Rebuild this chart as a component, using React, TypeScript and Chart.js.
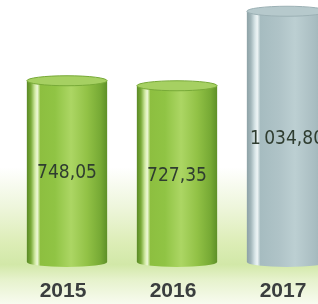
import React, { useEffect, useRef } from "react";
import { Chart, registerables } from "chart.js";

Chart.register(...registerables);

const years = ["2015", "2016", "2017"];
const values = [748.05, 727.35, 1034.8];
const barKinds = ["green", "green", "gray"];

function fmt(v: number): string {
  const [i, d] = v.toFixed(2).split(".");
  const withSep = i.replace(/\B(?=(\d{3})+(?!\d))/g, "\u2009");
  return withSep + "," + d;
}

const palettes: Record<string, { body: [number, string][]; top: string; rim: string }> = {
  green: {
    body: [
      [0, "#5a8a26"],
      [0.05, "#78a936"],
      [0.1, "#cfe9a0"],
      [0.13, "#eef8d8"],
      [0.17, "#8dbf40"],
      [0.35, "#90c444"],
      [0.55, "#acd664"],
      [0.75, "#92c246"],
      [0.92, "#76a934"],
      [1, "#5e9028"],
    ],
    top: "#a6d062",
    rim: "#78aa38",
  },
  gray: {
    body: [
      [0, "#8da2a6"],
      [0.05, "#a2b6ba"],
      [0.1, "#d6e4e6"],
      [0.13, "#eef5f6"],
      [0.17, "#a6bcc0"],
      [0.4, "#afc3c7"],
      [0.6, "#bccfd2"],
      [0.85, "#a9bdc1"],
      [1, "#98acb0"],
    ],
    top: "#b6c9cc",
    rim: "#9cb1b5",
  },
};

const bgPlugin = {
  id: "bg",
  beforeDraw(chart: any) {
    const { ctx, width, height } = chart;
    ctx.save();
    const g = ctx.createLinearGradient(0, 0, 0, height);
    g.addColorStop(0, "#ffffff");
    g.addColorStop(0.55, "#ffffff");
    g.addColorStop(0.68, "#eef6dc");
    g.addColorStop(0.8, "#dcedb6");
    g.addColorStop(0.87, "#d2e8a8");
    g.addColorStop(0.92, "#e6f2cc");
    g.addColorStop(1, "#f8fbf0");
    ctx.fillStyle = g;
    ctx.fillRect(0, 0, width, height);
    ctx.restore();
  },
};

const cylPlugin = {
  id: "cyl",
  afterDatasetsDraw(chart: any) {
    const { ctx } = chart;
    const meta = chart.getDatasetMeta(0);
    meta.data.forEach((el: any, i: number) => {
      const pal = palettes[barKinds[i]];
      const w = el.width;
      const left = el.x - w / 2;
      const top = el.y;
      const base = el.base;
      const ry = 5;
      ctx.save();
      const g = ctx.createLinearGradient(left, 0, left + w, 0);
      pal.body.forEach(([o, c]) => g.addColorStop(o, c));
      ctx.fillStyle = g;
      ctx.beginPath();
      ctx.moveTo(left, top);
      ctx.lineTo(left, base);
      ctx.ellipse(el.x, base, w / 2, ry, 0, Math.PI, 0, true);
      ctx.lineTo(left + w, top);
      ctx.closePath();
      ctx.fill();
      ctx.beginPath();
      ctx.ellipse(el.x, top, w / 2, ry, 0, 0, Math.PI * 2);
      ctx.fillStyle = pal.top;
      ctx.fill();
      ctx.lineWidth = 1;
      ctx.strokeStyle = pal.rim;
      ctx.stroke();
      ctx.fillStyle = "#2f3d30";
      ctx.font = "19px 'DejaVu Sans Condensed', 'DejaVu Sans', sans-serif";
      ctx.textAlign = "center";
      ctx.textBaseline = "middle";
      ctx.fillText(fmt(values[i]), el.x, (top + base) / 2 + 2);
      ctx.restore();
    });
  },
};

export default function App() {
  const ref = useRef<HTMLCanvasElement | null>(null);
  useEffect(() => {
    if (!ref.current) return;
    const chart = new Chart(ref.current, {
      type: "bar",
      data: {
        labels: years,
        datasets: [
          {
            data: values,
            backgroundColor: "rgba(0,0,0,0)",
            borderWidth: 0,
            barPercentage: 0.73,
            categoryPercentage: 1,
          },
        ],
      },
      options: {
        animation: false,
        responsive: false,
        maintainAspectRatio: false,
        devicePixelRatio: 1,
        layout: { padding: { left: 12, top: 10, right: 0, bottom: 0 } },
        plugins: { legend: { display: false }, tooltip: { enabled: false } },
        scales: {
          x: {
            grid: { display: false, drawTicks: false },
            border: { display: false },
            afterFit: (scale: any) => {
              scale.height = 42;
            },
            ticks: {
              color: "#3a3e3e",
              padding: 19,
              labelOffset: -4,
              font: { family: "'Liberation Sans', Arial, sans-serif", size: 21, weight: "bold", lineHeight: 1 },
            },
          },
          y: { display: false, min: 0, max: 1040 },
        },
      },
      plugins: [bgPlugin, cylPlugin],
    });
    return () => chart.destroy();
  }, []);
  return (
    <div style={{ position: "fixed", left: 0, top: 0, width: 342, height: 304 }}>
      <canvas ref={ref} width={342} height={304} style={{ display: "block" }} />
    </div>
  );
}
